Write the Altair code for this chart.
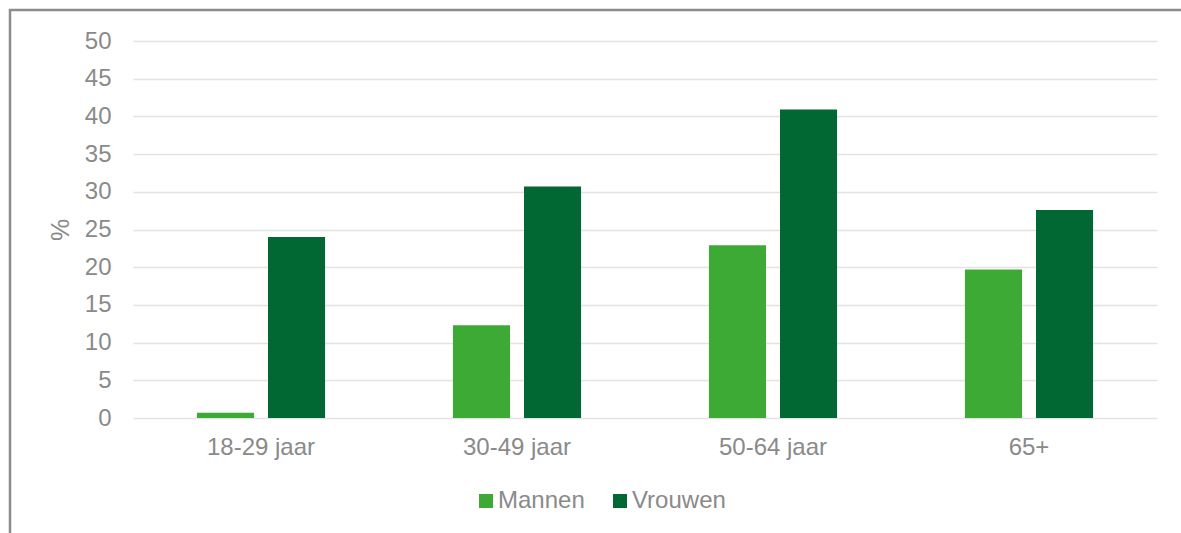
import altair as alt
import pandas as pd

# Share of respondents (%) by age group and sex
age_groups = ["18-29 jaar", "30-49 jaar", "50-64 jaar", "65+"]
sexes = ["Mannen", "Vrouwen"]
mannen = [0.7, 12.3, 22.9, 19.7]
vrouwen = [24.0, 30.7, 40.9, 27.6]
y_ticks = list(range(0, 51, 5))

colors = ["#3EAA36", "#016733"]
text_gray = "#8a8a8a"
font = "Liberation Sans"

rows = []
for i, age in enumerate(age_groups):
    rows.append({"leeftijd": age, "geslacht": "Mannen", "pct": mannen[i]})
    rows.append({"leeftijd": age, "geslacht": "Vrouwen", "pct": vrouwen[i]})
df = pd.DataFrame(rows)

bars = alt.Chart(df).mark_bar().encode(
    x=alt.X(
        "leeftijd:N",
        sort=age_groups,
        scale=alt.Scale(paddingInner=0, paddingOuter=0),
        axis=alt.Axis(
            title=None, domain=False, ticks=False, grid=False, labelAngle=0,
            labelPadding=17, labelFontSize=24, labelColor=text_gray, labelFont=font,
        ),
    ),
    xOffset=alt.XOffset(
        "geslacht:N", sort=sexes,
        scale=alt.Scale(paddingInner=0.197, paddingOuter=0.9),
    ),
    y=alt.Y(
        "pct:Q",
        scale=alt.Scale(domain=[0, 50], nice=False),
        axis=alt.Axis(
            values=y_ticks, title="%", domain=False, ticks=False, grid=True,
            gridColor="#e3e3e3", gridWidth=1.5,
            labelPadding=22, labelFontSize=24, labelColor=text_gray, labelFont=font,
            titleFontSize=25, titleColor=text_gray, titleFont=font, titleFontWeight="normal",
            titleAngle=-90, titleX=-73, titleY=188.5, titleAlign="center",
            titleBaseline="middle",
        ),
    ),
    color=alt.Color(
        "geslacht:N",
        sort=sexes,
        scale=alt.Scale(domain=sexes, range=colors),
        legend=alt.Legend(
            title=None, orient="none", direction="horizontal",
            legendX=341, legendY=448,
            symbolType="square", symbolSize=196, symbolStrokeWidth=0,
            labelFontSize=24, labelColor=text_gray, labelFont=font,
            labelOffset=0, columnPadding=23, padding=0,
        ),
    ),
)

# Outer frame lines (top and left edges of the figure border)
frame_df = pd.DataFrame({"k": [0]})
frame_top = alt.Chart(frame_df).mark_rule(color="#8c8c8c", strokeWidth=2.5).encode(
    x=alt.value(-124), x2=alt.value(1100), y=alt.value(-31)
)
frame_left = alt.Chart(frame_df).mark_rule(color="#8c8c8c", strokeWidth=2.5).encode(
    x=alt.value(-123), y=alt.value(-32), y2=alt.value(600)
)

chart = alt.layer(bars, frame_top, frame_left).properties(
    width=1024, height=377,
    autosize=alt.AutoSizeParams(type="none"),
    padding={"left": 133, "top": 41, "right": 24, "bottom": 115},
    background="white",
).configure_view(stroke=None)

chart.save("out.html", embed_options={"renderer": "svg", "actions": False})
